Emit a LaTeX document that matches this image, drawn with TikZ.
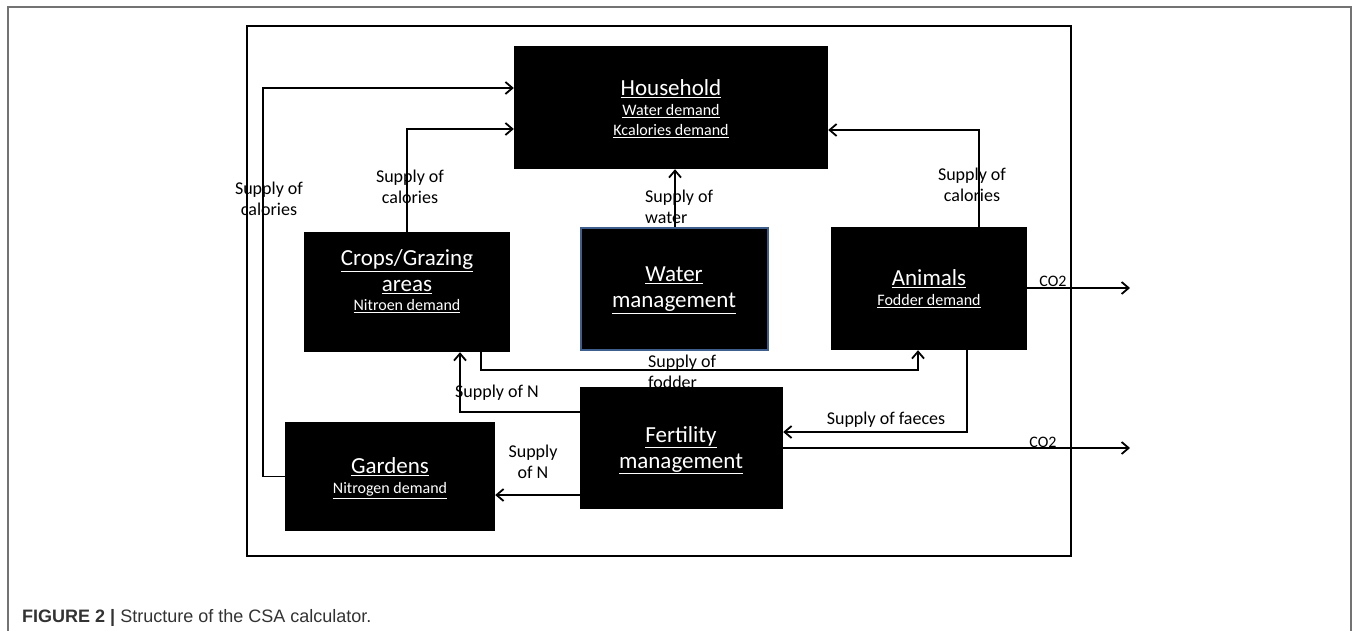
\documentclass[tikz,border=0pt]{standalone}
\usepackage{fontspec}
\setmainfont{Carlito}
\newfontfamily\capfont{Liberation Sans}
\usetikzlibrary{arrows.meta}
\newcommand{\bxttl}[1]{\underline{#1}}
\newcommand{\bxsub}[1]{{\fontsize{16}{18}\selectfont\underline{#1}}}
\definecolor{wborder}{HTML}{3E5F8E}
\begin{document}
\begin{tikzpicture}[x=1pt,y=-1pt,
  box/.style={fill=black, draw=none, inner sep=0pt, rectangle},
  btxt/.style={text=white, align=center, inner sep=0pt, font=\fontsize{23}{26}\selectfont},
  ln/.style={line width=1.8pt},
  arr/.style={line width=1.8pt, -{Straight Barb[length=7pt,width=12pt]}},
  lbl/.style={font=\fontsize{18}{21}\selectfont, inner sep=0pt, align=center},
  co/.style={font=\fontsize{16}{18}\selectfont, inner sep=0pt},
]
\useasboundingbox (0,0) rectangle (1357,631);
% outer gray frame
\draw[black!55, line width=1.2pt] (8,631) -- (8,7) -- (1351,7) -- (1351,631);
% inner frame
\node[draw, line width=2.2pt, inner sep=0pt, minimum width=824, minimum height=530] (frame) at (659,291) {};

% labels drawn first (boxes hide parts)
\node[lbl, anchor=north west, align=left] (lfod) at (648,355) {Supply of\\fodder};
\node[lbl, anchor=north west, align=left] (lwat) at (645,190) {Supply of\\water};

% boxes
\node[box, minimum width=314, minimum height=123] (household) at (671,107.5) {};
\node[box, minimum width=206, minimum height=120] (crops) at (407,292) {};
\node[box, draw=wborder, line width=1.6pt, minimum width=187, minimum height=122] (water) at (674.5,289) {};
\node[box, minimum width=196, minimum height=123] (animals) at (929,288.5) {};
\node[box, minimum width=203, minimum height=122] (fertility) at (681.5,448) {};
\node[box, minimum width=210, minimum height=109] (gardens) at (390,476.5) {};

% box texts
\node[btxt] (thh) at (671,109) {\bxttl{Household}\\[-6pt]\bxsub{Water demand}\\[-6pt]\bxsub{Kcalories demand}};
\node[btxt] (tcr) at (407,281) {\bxttl{Crops/Grazing}\\\bxttl{areas}\\[-7pt]\bxsub{Nitroen demand}};
\node[btxt] (twa) at (674,290) {\bxttl{Water}\\\bxttl{management}};
\node[btxt] (tan) at (929,289) {\bxttl{Animals}\\[-6pt]\bxsub{Fodder demand}};
\node[btxt] (tfe) at (681,450) {\bxttl{Fertility}\\\bxttl{management}};
\node[btxt] (tga) at (390,478) {\bxttl{Gardens}\\[-6pt]\bxsub{Nitrogen demand}};

% helper coordinates
\coordinate (g1) at (263,88);
\coordinate (c2) at (407,129);
\coordinate (w3) at (675,0);
\coordinate (a4) at (979,130);
\coordinate (o5) at (1130,288);
\coordinate (f6a) at (481,370);
\coordinate (f6b) at (918,370);
\coordinate (n7) at (460,412);
\coordinate (fa8) at (967,432);
\coordinate (o9) at (1130,448);
\coordinate (n10) at (0,495);

% connectors
\draw[arr] (gardens.west) -| (g1) -- (g1 -| household.west);
\draw[arr] (crops.north -| c2) -- (c2) -- (c2 -| household.west);
\draw[arr] (water.north -| w3) -- (household.south -| w3);
\draw[arr] (animals.north -| a4) -- (a4) -- (a4 -| household.east);
\draw[arr] (animals.east |- o5) -- (o5);
\draw[arr] (crops.south -| f6a) -- (f6a) -- (f6b) -- (animals.south -| f6b);
\draw[arr] (fertility.west |- n7) -- (n7) -- (crops.south -| n7);
\draw[arr] (animals.south -| fa8) -- (fa8) -- (fertility.east |- fa8);
\draw[arr] (fertility.east |- o9) -- (o9);
\draw[arr] (fertility.west |- n10) -- (gardens.east |- n10);

% labels
\node[lbl] (lcal1) at (269,199) {Supply of\\calories};
\node[lbl] (lcal2) at (410,187) {Supply of\\calories};
\node[lbl] (lcal3) at (972,185) {Supply of\\calories};
\node[lbl] (ln1) at (497,393) {Supply of N};
\node[lbl] (ln2) at (533,462) {Supply\\of N};
\node[lbl] (lfae) at (886,420) {Supply of faeces};
\node[co] (co1) at (1053,281) {CO2};
\node[co] (co2) at (1043,442) {CO2};

% caption
\node[anchor=base west, inner sep=0pt, text=black!80, font=\capfont\fontsize{18}{21}\selectfont] (cap) at (22,622) {\textbf{FIGURE 2 |} Structure of the CSA calculator.};
\end{tikzpicture}
\end{document}
